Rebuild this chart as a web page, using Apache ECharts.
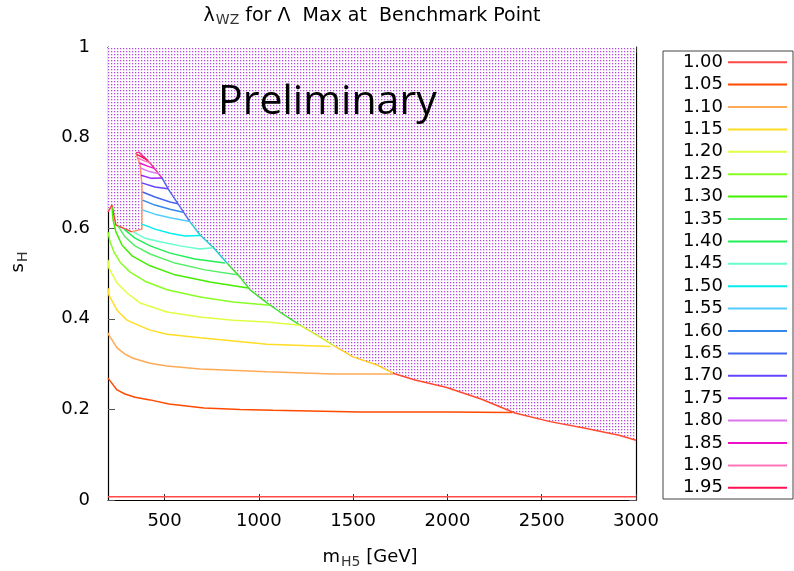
<!DOCTYPE html>
<html><head><meta charset="utf-8">
<script src="https://cdn.jsdelivr.net/npm/echarts@6/dist/echarts.min.js"></script>
<style>html,body{margin:0;padding:0;background:#fff}#c{width:794px;height:571px}</style>
</head><body><div id="c"></div>
<script>
// ---- data ----
const levels = ['1.00','1.05','1.10','1.15','1.20','1.25','1.30','1.35','1.40','1.45','1.50','1.55','1.60','1.65','1.70','1.75','1.80','1.85','1.90','1.95'];
const xTicks = [500,1000,1500,2000,2500,3000];
const yTicks = [0,0.2,0.4,0.6,0.8,1];
// boundary of allowed region (excluded region above)
const boundary = [[200,0.636],[221,0.651],[242,0.607],[327,0.592],[380,0.598],[380,0.695],[370,0.740],[348,0.766],[364,0.768],[423,0.744],[486,0.711],[523,0.684],[582,0.647],[635,0.614],[688,0.585],[757,0.558],[831,0.523],[900,0.492],[953,0.464],[1043,0.435],[1112,0.415],[1218,0.386],[1308,0.364],[1393,0.342],[1499,0.316],[1627,0.298],[1711,0.280],[1828,0.265],[1992,0.249],[2178,0.223],[2358,0.192],[2544,0.173],[2724,0.159],[2910,0.143],[3000,0.132]];
const c100 = [[200,0.007],[3000,0.007]];
const c105 = [[200,0.269],[211,0.263],[248,0.243],[290,0.234],[343,0.227],[423,0.221],[523,0.212],[709,0.203],[900,0.200],[1075,0.198],[1536,0.194],[1992,0.194],[2342,0.193]];
const c110 = [[200,0.369],[205,0.364],[248,0.336],[290,0.322],[333,0.313],[423,0.302],[513,0.296],[688,0.289],[1043,0.283],[1393,0.278],[1711,0.278]];
const c115 = [[200,0.468],[205,0.452],[248,0.419],[301,0.397],[333,0.391],[423,0.375],[513,0.366],[688,0.358],[1043,0.344],[1380,0.339]];
const c120 = [[200,0.530],[205,0.512],[248,0.479],[301,0.457],[370,0.435],[513,0.415],[688,0.404],[863,0.397],[1043,0.393],[1218,0.386]];
const c125 = [[200,0.592],[211,0.570],[232,0.547],[264,0.525],[317,0.503],[396,0.483],[513,0.464],[688,0.448],[863,0.437],[1059,0.430]];
const c130 = [[221,0.647],[227,0.618],[242,0.592],[274,0.563],[327,0.539],[423,0.517],[555,0.497],[741,0.481],[942,0.468]];
const c135 = [[253,0.605],[290,0.581],[343,0.561],[423,0.543],[555,0.523],[714,0.508],[884,0.497]];
const c140 = [[285,0.598],[343,0.578],[423,0.561],[529,0.545],[661,0.532],[820,0.523]];
const c145 = [[333,0.592],[396,0.578],[476,0.570],[582,0.561],[688,0.554],[757,0.557]];
const c150 = [[380,0.609],[449,0.598],[529,0.589],[608,0.583],[688,0.584]];
const c155 = [[383,0.640],[449,0.631],[529,0.623],[635,0.615]];
const c160 = [[383,0.662],[449,0.651],[529,0.642],[598,0.635]];
const c165 = [[383,0.680],[449,0.669],[529,0.658],[571,0.654]];
const c170 = [[379,0.700],[449,0.691],[518,0.687]];
const c175 = [[375,0.717],[430,0.710],[486,0.711]];
const c180 = [[372,0.733],[420,0.725],[470,0.720]];
const c185 = [[367,0.744],[410,0.737],[445,0.732]];
const c190 = [[358,0.755],[395,0.748],[425,0.744]];
const c195 = [[352,0.763],[385,0.756],[410,0.750]];
const contours = [c100,c105,c110,c115,c120,c125,c130,c135,c140,c145,c150,c155,c160,c165,c170,c175,c180,c185,c190,c195];

// ---- styles ----
const colors = ['#ff4848','#ff4a00','#ffaa55','#ffdd22','#ddff44','#88ff22','#44ee00','#55ee66','#22ee55','#66ffcc','#00eeee','#55ccff','#3388ee','#4466ee','#6644ff','#9922ff','#dd77ee','#ee11cc','#ff77bb','#ff1155'];
// boundary edge pieces: [startIndex, endIndex, colour]
const edgePieces = [[0,3,'#ff4040'],[3,7,'#ff9070'],[7,10,'#ee3399'],[10,13,'#5566ee'],[13,16,'#22cccc'],[16,21,'#44dd33'],[21,23,'#ccee22'],[23,26,'#ffcc22'],[26,34,'#ff4a30']];
const FONT = 'DejaVu Sans';

const pc = document.createElement('canvas');
pc.width = 3; pc.height = 3;
const px = pc.getContext('2d');
px.fillStyle = '#ffffff'; px.fillRect(0,0,3,3);
px.fillStyle = '#b048e6'; px.fillRect(0,0,1,1);
px.fillStyle = '#ebcdf6'; px.fillRect(1,0,1,1); px.fillRect(0,1,1,1);
px.fillStyle = '#f8ecfc'; px.fillRect(1,1,1,1);

const chart = echarts.init(document.getElementById('c'), null, {renderer:'canvas'});
const series = [{
  type:'line', data: boundary, symbol:'none', silent:true, z:1,
  lineStyle:{width:0, opacity:0},
  areaStyle:{origin:'end', color:{image: pc, repeat:'repeat'}, opacity:1}
}].concat(edgePieces.map(p=>({
  type:'line', data: boundary.slice(p[0], p[1]+1), symbol:'none', silent:true, z:2,
  lineStyle:{color:p[2], width:1.5}
}))).concat(levels.map((name,i)=>({
  type:'line', name, data: contours[i], symbol:'none', showSymbol:false, z:3,
  lineStyle:{color: colors[i], width:1.5}, itemStyle:{color: colors[i]}
})));

const axisLineStyle = {color:'#000', width:1.2};
chart.setOption({
  animation:false,
  grid:{left:108, right:158, top:47, bottom:71, show:false},
  xAxis:[{
    type:'value', min:200, max:3000, position:'bottom',
    axisLine:{show:true, onZero:false, lineStyle:axisLineStyle},
    axisTick:{show:true, inside:true, length:6, customValues:xTicks, lineStyle:{color:'#333'}},
    axisLabel:{customValues:xTicks, fontSize:18, fontFamily:FONT, color:'#000', margin:12, formatter:v=>String(v)},
    splitLine:{show:false}
  },{
    type:'value', min:200, max:3000, position:'top',
    axisLine:{show:true, onZero:false, lineStyle:axisLineStyle},
    axisTick:{show:true, inside:true, length:6, customValues:xTicks, lineStyle:{color:'#333'}},
    axisLabel:{show:false}, splitLine:{show:false}
  }],
  yAxis:[{
    type:'value', min:0, max:1, interval:0.2, position:'left',
    axisLine:{show:true, onZero:false, lineStyle:axisLineStyle},
    axisTick:{show:true, inside:true, length:7, lineStyle:{color:'#555'}},
    axisLabel:{fontSize:18, fontFamily:FONT, color:'#000', margin:18, formatter:v=>String(+v.toFixed(1))},
    splitLine:{show:false}
  },{
    type:'value', min:0, max:1, interval:0.2, position:'right',
    axisLine:{show:true, onZero:false, lineStyle:axisLineStyle},
    axisTick:{show:true, inside:true, length:7, lineStyle:{color:'#555'}},
    axisLabel:{show:false}, splitLine:{show:false}
  }],
  legend:{
    orient:'vertical', left:663, top:51, data:levels, icon:'rect',
    itemWidth:59, itemHeight:2, itemGap:0, align:'right',
    padding:[0,6,0,12], borderColor:'#444', borderWidth:1, backgroundColor:'#fff',
    selectedMode:false,
    textStyle:{fontSize:18, fontFamily:FONT, color:'#000', width:48, lineHeight:22.4}
  },
  graphic:[
    {type:'text', x:372, y:16, z:100, style:{
      text:'{a|λ}{b|WZ}{a| for Λ  Max at  Benchmark Point}', align:'center', verticalAlign:'middle',
      rich:{a:{fontSize:19, fontFamily:FONT, fill:'#000'}, b:{fontSize:14, fontFamily:FONT, fill:'#333', padding:[8,0,0,1]}}
    }},
    {type:'text', x:370, y:557, z:100, style:{
      text:'{a|m}{b|H5}{a| [GeV]}', align:'center', verticalAlign:'middle',
      rich:{a:{fontSize:18, fontFamily:FONT, fill:'#000'}, b:{fontSize:14, fontFamily:FONT, fill:'#333', padding:[10,0,0,1]}}
    }},
    {type:'text', x:18, y:262, z:100, rotation:Math.PI/2, style:{
      text:'{a|s}{b|H}', align:'center', verticalAlign:'middle',
      rich:{a:{fontSize:18, fontFamily:FONT, fill:'#000'}, b:{fontSize:14, fontFamily:FONT, fill:'#333', padding:[10,0,0,1]}}
    }},
    {type:'text', x:218, y:102, z:100, style:{text:'Preliminary', fontSize:41, fontFamily:'Open Sans', fill:'#000', verticalAlign:'middle'}}
  ],
  series
});
</script></body></html>
